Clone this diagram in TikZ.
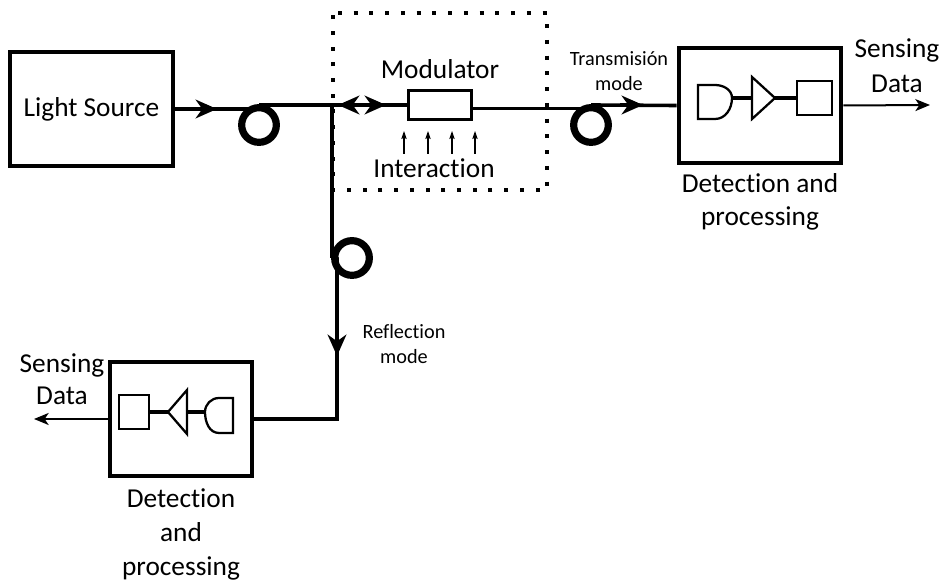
\documentclass[tikz,border=0pt]{standalone}
\usepackage{fontspec}
\setmainfont[Ligatures=NoCommon]{Carlito}
\usetikzlibrary{arrows.meta, calc}

\begin{document}
\begin{tikzpicture}[
    x=0.75pt, y=-0.75pt,
    block/.style={draw=black, line width=3.2pt, inner sep=0pt, font=\fontsize{20.5}{24}\selectfont},
    fibre/.style={line width=2.7pt},
    loopring/.style={circle, draw=black, line width=5.4pt, minimum size=26pt, inner sep=0pt},
    wire/.style={line width=2.4pt},
    part/.style={draw=black, line width=1.7pt, inner sep=0pt},
    bigtext/.style={font=\fontsize{20.5}{24}\selectfont, align=center},
    smalltext/.style={font=\fontsize{15.2}{19}\selectfont, align=center},
    flow/.style={-{Stealth[length=16pt, width=14pt, inset=5pt]}, fibre},
    output/.style={-{Stealth[length=11pt, width=9pt, inset=3pt]}, line width=1.5pt},
    probe/.style={-{Stealth[length=6pt, width=4pt, inset=1pt]}, line width=0.8pt}]

    \useasboundingbox (0,0) rectangle (943,580);

    % ================= top row =================
    \node[block, minimum width=122pt, minimum height=86pt] (source) at (91.5,109) {Light Source};
    \node[loopring] (loopa) at (259,125) {};
    \node[loopring] (loopb) at (591,125) {};
    \node[block, line width=2.5pt, minimum width=47pt, minimum height=22pt] (mod) at (440,105) {};
    \node[block, minimum width=122pt, minimum height=86pt] (rbox) at (760,105.5) {};

    \coordinate (taila) at (190,109);
    \coordinate (arra) at (217,109);
    \coordinate (inta) at (259,109);
    \coordinate (topa) at (259,105);
    \coordinate (junc) at (332,105);
    \coordinate (tipl) at (338,105);
    \coordinate (split) at (362,105);
    \coordinate (tipr) at (386,105);
    \coordinate (modout) at (472,108.5);
    \coordinate (topbin) at (591,108.5);
    \coordinate (topb) at (591,105);
    \coordinate (tailb) at (620,105);
    \coordinate (arrb) at (643,105);

    \draw[fibre] (source) -- (inta);
    \draw[flow] (taila) -- (arra);
    \draw[fibre] (topa) -- (junc);
    \draw[fibre] (junc) -- (mod.west);
    \draw[flow] (split) -- (tipl);
    \draw[flow] (split) -- (tipr);
    \draw[fibre] (modout) -- (topbin);
    \draw[fibre] (topb) -- (rbox.west);
    \draw[flow] (tailb) -- (arrb);

    % the dotted interaction area
    \draw[line width=3pt, dash pattern=on 3pt off 8.8pt] (338,13) -- (547,13) -- (547,190) -- (333,190) -- (333,13);

    \node[bigtext] (modlabel) at (440,69) {Modulator};
    \node[bigtext] (intlabel) at (434,168) {Interaction};
    \foreach \px/\name in {404/a, 428/b, 452/c, 475/d} {
        \coordinate (low\name) at (\px,154);
        \coordinate (up\name) at (\px,131);
        \draw[probe] (low\name) -- (up\name);
    }

    \node[smalltext] (txlabel) at (619,71) {Transmisión\\mode};

    % detector, amplifier and block inside the right box
    \coordinate (da) at (732,98);
    \coordinate (ta) at (752,98);
    \coordinate (tb) at (775,98);
    \node[part, minimum width=26pt, minimum height=25.5pt] (sqa) at (814.5,98) {};
    \draw[part] (698,85) -- (715,85) to[out=0, in=90] (da) to[out=-90, in=0] (715,119) -- (698,119) -- cycle;
    \draw[part] (752,77) -- (tb) -- (752,119) -- cycle;
    \draw[wire] (da) -- (ta);
    \draw[wire] (tb) -- (sqa.west);

    \coordinate (routa) at (930,105);
    \draw[output] (rbox.east) -- (routa);
    \node[bigtext] (rdata) at (897,66) {Sensing\\[2pt]Data};
    \node[bigtext] (rname) at (760,202) {Detection and\\[1pt]processing};

    % ================= reflection branch =================
    \node[loopring] (loopc) at (352,258) {};
    \node[block, minimum width=106pt, minimum height=86pt] (lbox) at (181,419) {};
    \coordinate (sidec) at (332,258);
    \coordinate (downc) at (337,258);
    \coordinate (tailc) at (337,330);
    \coordinate (arrc) at (337,356);
    \coordinate (bend) at (337,419);

    \draw[fibre] (junc) -- (sidec);
    \draw[fibre, line cap=round] (downc) -- (bend) -- (lbox.east);
    \draw[flow] (tailc) -- (arrc);

    \node[smalltext] (rxlabel) at (404,344) {Reflection\\mode};

    \coordinate (db) at (205,412);
    \coordinate (tc) at (187,412);
    \coordinate (td) at (168,412);
    \node[part, minimum width=22pt, minimum height=25pt] (sqb) at (134,412) {};
    \draw[part] (233,398) -- (219,398) to[out=180, in=90] (db) to[out=-90, in=180] (219,433) -- (233,433) -- cycle;
    \draw[part] (187,390) -- (td) -- (187,434) -- cycle;
    \draw[wire] (db) -- (tc);
    \draw[wire] (td) -- (sqb.east);

    \coordinate (loutb) at (34,419);
    \draw[output] (lbox.west) -- (loutb);
    \node[bigtext] (ldata) at (62,379) {Sensing\\[0pt]Data};
    \node[bigtext] (lname) at (181,534) {Detection\\[1.5pt]and\\[1.5pt]processing};
\end{tikzpicture}
\end{document}
